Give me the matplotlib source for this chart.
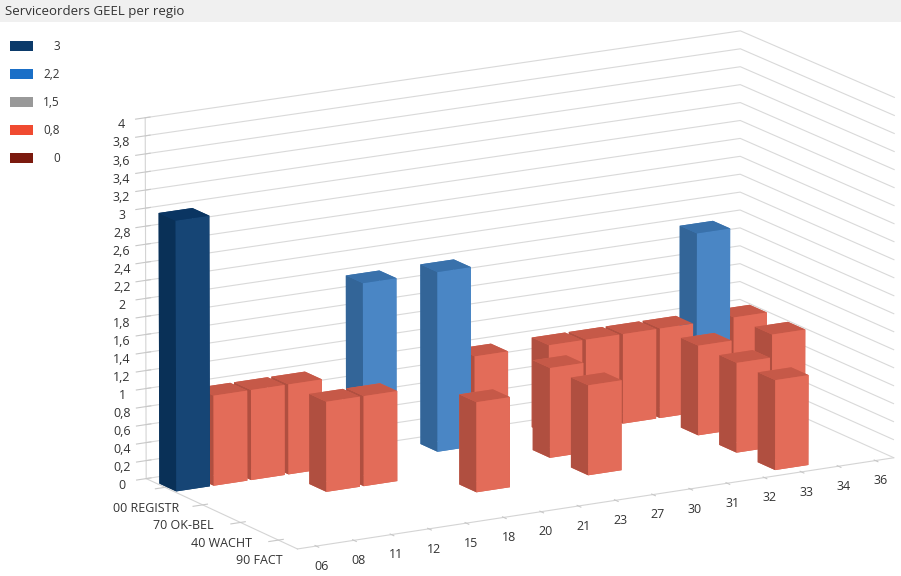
import numpy as np
import matplotlib
matplotlib.use("Agg")
import matplotlib.pyplot as plt
from matplotlib.colors import LinearSegmentedColormap, to_rgb
from matplotlib.ticker import FuncFormatter
from matplotlib.patches import Rectangle

regions = ["06", "08", "11", "12", "15", "18", "20", "21",
           "23", "27", "30", "31", "32", "33", "34", "36"]
statuses = ["00 REGISTR", "70 OK-BEL", "40 WACHT", "90 FACT"]

# service orders per region, one list per status
registr = [3, 1, 1, 1, 0, 2, 0, 2, 1, 0, 1, 1, 1, 1, 2, 1]
ok_bel = [0, 0, 0, 1, 1, 0, 0, 0, 0, 1, 0, 0, 0, 1, 0, 1]
wacht = [0, 0, 0, 0, 0, 0, 1, 0, 0, 1, 0, 0, 0, 1, 0, 0]
fact = [0, 0, 0, 0, 0, 0, 0, 0, 0, 0, 0, 0, 0, 1, 0, 0]

scale_values = [3, 2.2, 1.5, 0.8, 0]
scale_labels = ["3", "2,2", "1,5", "0,8", "0"]
scale_colors = ["#0b3a6a", "#1a6fc7", "#999999", "#f04a30", "#7b1a0e"]

plt.rcParams['font.family'] = ['Open Sans', 'DejaVu Sans']

vmax = max(scale_values)
stops = sorted(zip([v / vmax for v in scale_values], scale_colors))
cmap = LinearSegmentedColormap.from_list("heat", stops)

fig = plt.figure(figsize=(9.01, 5.76), dpi=100)

# legend
for k, (lab, col) in enumerate(zip(scale_labels, scale_colors)):
    yc = 1 - (46 + 28 * k) / 576
    fig.add_artist(Rectangle((10 / 901, yc - 5 / 576), 23 / 901, 10 / 576,
                             transform=fig.transFigure, facecolor=col, edgecolor="none"))
    fig.text(60 / 901, yc, lab, fontsize=8.5, color="#333333", ha="right", va="center")

ax = fig.add_axes([-0.045, -0.25, 1.22, 1.46], projection="3d")
ax.view_init(elev=15, azim=-120)
ax.set_proj_type("persp", focal_length=8)
ax.set_box_aspect((15.3, 6.8, 8.3), zoom=0.97)

rows = [registr, ok_bel, wacht, fact]
xs, ys, hs = [], [], []
for j, row in enumerate(rows):
    for i, v in enumerate(row):
        if v > 0:
            xs.append(i)
            ys.append(len(rows) - 1 - j)
            hs.append(v)
xs = np.array(xs, float)
ys = np.array(ys, float)
hs = np.array(hs, float)

face_cols = []
for h in hs:
    base = np.array(to_rgb(cmap(h / vmax)))
    front = np.clip(base + 0.045, 0, 1)
    top = base * 0.92
    side = base * 0.82
    # order: -z, +z, -y, +y, -x, +x
    face_cols += [tuple(base), tuple(top), tuple(front), tuple(base), tuple(side), tuple(base)]

ax.bar3d(xs + 0.05, ys + 0.25, np.zeros_like(hs), 0.9, 0.45, hs,
         color=face_cols, shade=False, edgecolor="none")

ax.set_xlim(0, len(regions))
ax.set_ylim(0, len(statuses))
ax.set_zlim(0, 4)
ax.set_xticks(np.arange(len(regions)) + 0.5)
ax.set_xticklabels(regions)
ax.set_yticks(np.arange(len(statuses)) + 0.5)
ax.set_yticklabels(statuses[::-1])
ax.set_zticks(np.arange(0, 4.01, 0.2))
ax.zaxis.set_major_formatter(FuncFormatter(
    lambda v, p: f"{v:.1f}".rstrip("0").rstrip(".").replace(".", ",")))

for axis in (ax.xaxis, ax.yaxis, ax.zaxis):
    axis.set_pane_color((1, 1, 1, 0))
    axis.pane.set_edgecolor("#d4d4d4")
    axis.line.set_color("#d4d4d4")
    axis.line.set_linewidth(0.8)
ax.xaxis._axinfo["grid"].update(color=(1, 1, 1, 0), linewidth=0)
ax.yaxis._axinfo["grid"].update(color=(1, 1, 1, 0), linewidth=0)
ax.zaxis._axinfo["grid"].update(color="#d9d9d9", linewidth=0.8)
ax.tick_params(axis="both", labelsize=9, labelcolor="#333333", colors="#c8c8c8", pad=2)
ax.tick_params(axis="z", labelsize=9, labelcolor="#333333", colors="#c8c8c8", pad=2)

# title bar drawn last so the chart stays underneath it
fig.add_artist(Rectangle((0, 1 - 22 / 576), 1, 22 / 576, transform=fig.transFigure,
                         facecolor="#f0f0f0", edgecolor="none", zorder=10))
fig.text(5 / 901, 1 - 11 / 576, "Serviceorders GEEL per regio", fontsize=9.5,
         color="#333333", va="center", ha="left", zorder=11)

fig.savefig("out.png", dpi=100)
